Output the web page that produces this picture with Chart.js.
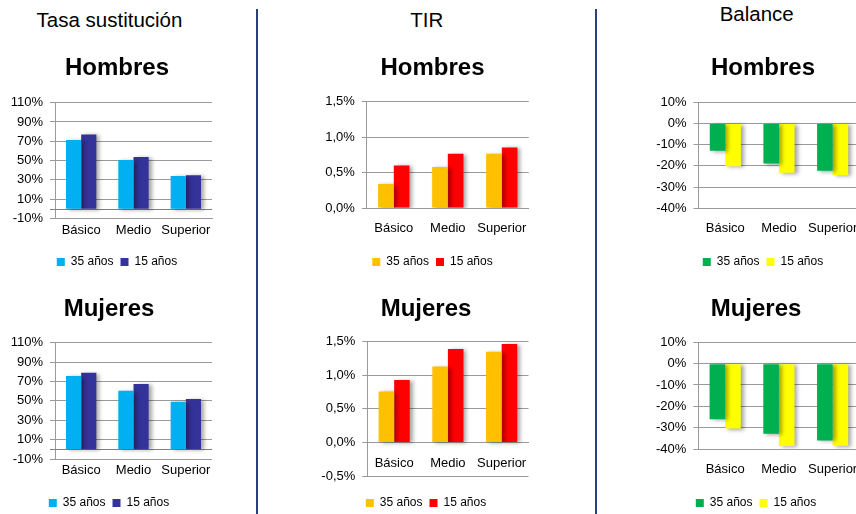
<!DOCTYPE html>
<html><head><meta charset="utf-8">
<script src="https://cdn.jsdelivr.net/npm/chart.js@4.4.1/dist/chart.umd.min.js"></script>
<style>
html,body{margin:0;padding:0;width:856px;height:514px;overflow:hidden;background:#fff;font-family:"Liberation Sans",Arial,sans-serif;}
.hdr{position:absolute;width:300px;text-align:center;font-size:20.5px;line-height:20px;color:#000;white-space:nowrap;}
.sep{position:absolute;top:9px;width:2px;height:505px;background:#2B3F7F;}
canvas{position:absolute;}
</style></head><body>
<div class="hdr" style="left:-40.5px;top:9.8px">Tasa sustitución</div>
<div class="hdr" style="left:276.7px;top:10.4px">TIR</div>
<div class="hdr" style="left:606.7px;top:3.8px">Balance</div>
<div class="sep" style="left:256px"></div>
<div class="sep" style="left:595px"></div>
<canvas id="c1" width="226" height="238" style="left:0px;top:40px"></canvas>
<canvas id="c2" width="212" height="239" style="left:0px;top:280px"></canvas>
<canvas id="c3" width="242" height="238" style="left:300px;top:40px"></canvas>
<canvas id="c4" width="232" height="239" style="left:300px;top:280px"></canvas>
<canvas id="c5" width="252" height="238" style="left:620px;top:40px"></canvas>
<canvas id="c6" width="240" height="239" style="left:620px;top:280px"></canvas>
<script>
const categories = ['Básico', 'Medio', 'Superior'];
const seriesNames = ['35 años', '15 años'];
const panelTitles = ['Hombres', 'Mujeres'];

const tasaHombres35 = [71.3, 50.5, 33.9];
const tasaHombres15 = [77.1, 53.6, 34.6];
const tasaMujeres35 = [75.6, 60.5, 49.2];
const tasaMujeres15 = [79.1, 67.4, 51.9];

const tirHombres35 = [0.34, 0.58, 0.765];
const tirHombres15 = [0.60, 0.765, 0.855];
const tirMujeres35 = [0.76, 1.13, 1.35];
const tirMujeres15 = [0.93, 1.39, 1.465];

const balHombres35 = [-12.8, -18.9, -22.3];
const balHombres15 = [-20.2, -23.2, -24.4];
const balMujeres35 = [-26.1, -32.9, -36.0];
const balMujeres15 = [-30.4, -38.6, -38.5];

const tasaTicks = [-10, 10, 30, 50, 70, 90, 110];
const tasaTickLabels = ['-10%', '10%', '30%', '50%', '70%', '90%', '110%'];
const tirHombresTicks = [0, 0.5, 1, 1.5];
const tirHombresTickLabels = ['0,0%', '0,5%', '1,0%', '1,5%'];
const tirMujeresTicks = [-0.5, 0, 0.5, 1, 1.5];
const tirMujeresTickLabels = ['-0,5%', '0,0%', '0,5%', '1,0%', '1,5%'];
const balTicks = [-40, -30, -20, -10, 0, 10];
const balTickLabels = ['-40%', '-30%', '-20%', '-10%', '0%', '10%'];

const tasaColors = ['#00B0F0', '#333399'];
const tirColors = ['#FFC000', '#FF0000'];
const balColors = ['#00B050', '#FFFF00'];

Chart.defaults.font.family = '"Liberation Sans", Arial, sans-serif';
Chart.defaults.color = '#000';
const GRID = '#9a9a9a';

const fxPlugin = {
  id: 'fx',
  beforeDatasetsDraw(chart, args, opts) {
    const ctx = chart.ctx;
    if (opts.zero) {
      const y = chart.scales.y.getPixelForValue(0);
      ctx.save();
      ctx.strokeStyle = '#808080';
      ctx.lineWidth = 1;
      ctx.beginPath();
      ctx.moveTo(chart.chartArea.left - 5, Math.round(y) + 0.5);
      ctx.lineTo(chart.chartArea.right, Math.round(y) + 0.5);
      ctx.stroke();
      ctx.restore();
    }
    ctx.save();
    ctx.shadowColor = 'rgba(0,0,0,0.35)';
    ctx.shadowBlur = 4;
    ctx.shadowOffsetX = 3;
    ctx.shadowOffsetY = 1;
  },
  afterDatasetsDraw(chart) {
    chart.ctx.restore();
  }
};

function build(id, o) {
  const scales = {
    x: {
      position: o.xAtZero ? {y: 0} : 'bottom',
      grid: {display: true, drawOnChartArea: false, drawTicks: true, tickLength: o.xPad, color: 'rgba(0,0,0,0)'},
      border: {display: true, color: GRID, width: 1},
      ticks: {color: '#000', font: {size: 13}, padding: 0, maxRotation: 0, autoSkip: false}
    },
    y: {
      position: 'left',
      min: o.min, max: o.max,
      grid: {color: GRID, tickLength: 5, drawTicks: true},
      border: {display: true, color: GRID},
      ticks: {
        color: '#000', font: {size: 13}, padding: 7,
        callback: (v) => { const i = o.ticks.indexOf(v); return i >= 0 ? o.labels[i] : ''; }
      },
      afterBuildTicks: (s) => { s.ticks = o.ticks.map(v => ({value: v})); },
      afterFit: (s) => { s.width = o.yW; }
    }
  };
  if (!o.xAtZero) {
    scales.x.afterFit = (s) => { s.height = o.xH; };
  } else {
    scales.gap = {
      type: 'linear', position: 'bottom', display: true,
      ticks: {display: false, padding: 0}, grid: {display: false, drawTicks: false},
      border: {display: false},
      afterFit: (s) => { s.height = o.gapH; }
    };
  }
  if (o.rightW > 0) {
    scales.yr = {
      type: 'linear', position: 'right', display: true,
      ticks: {display: false}, grid: {display: false, drawTicks: false},
      border: {display: false},
      afterFit: (s) => { s.width = o.rightW; }
    };
  }
  new Chart(document.getElementById(id), {
    type: 'bar',
    data: {
      labels: categories,
      datasets: [
        {label: seriesNames[0], data: o.d35, backgroundColor: o.colors[0], borderWidth: 0, xAxisID: 'x', yAxisID: 'y', categoryPercentage: 0.58, barPercentage: 1},
        {label: seriesNames[1], data: o.d15, backgroundColor: o.colors[1], borderWidth: 0, xAxisID: 'x', yAxisID: 'y', categoryPercentage: 0.58, barPercentage: 1}
      ]
    },
    options: {
      responsive: false,
      animation: false,
      devicePixelRatio: 1,
      layout: {padding: {left: o.padL, right: o.padR, top: 0, bottom: 0}},
      scales: scales,
      plugins: {
        fx: {zero: !!o.zero},
        tooltip: {enabled: false},
        title: {
          display: true, text: o.title, color: '#000',
          font: {size: 24, weight: 'bold'},
          padding: {top: o.tTop, bottom: o.tBot}
        },
        legend: {
          position: 'bottom',
          labels: {boxWidth: 8, boxHeight: 8, padding: 7, color: '#000', font: {size: 12}}
        }
      }
    },
    plugins: [fxPlugin]
  });
}

build('c1', {title: panelTitles[0], d35: tasaHombres35, d15: tasaHombres15, colors: tasaColors,
  ticks: tasaTicks, labels: tasaTickLabels, min: -10, max: 110, zero: true,
  padL: 8, padR: 0, yW: 47, rightW: 14, tTop: 14.3, tBot: 19.6, xH: 30.7, xPad: 4.2});
build('c2', {title: panelTitles[1], d35: tasaMujeres35, d15: tasaMujeres15, colors: tasaColors,
  ticks: tasaTicks, labels: tasaTickLabels, min: -10, max: 110, zero: true,
  padL: 6, padR: 0, yW: 49, rightW: 0, tTop: 14.6, tBot: 19.3, xH: 31, xPad: 3.5});
build('c3', {title: panelTitles[0], d35: tirHombres35, d15: tirHombres15, colors: tirColors,
  ticks: tirHombresTicks, labels: tirHombresTickLabels, min: 0, max: 1.5,
  padL: 23.8, padR: 0.8, yW: 43, rightW: 12.4, tTop: 14.3, tBot: 18.6, xH: 41, xPad: 12.9});
build('c4', {title: panelTitles[1], d35: tirMujeres35, d15: tirMujeres15, colors: tirColors,
  ticks: tirMujeresTicks, labels: tirMujeresTickLabels, min: -0.5, max: 1.5, xAtZero: true, gapH: 14,
  padL: 20.3, padR: 0.3, yW: 47, rightW: 3.2, tTop: 14.6, tBot: 18.3, xPad: 12.8});
build('c5', {title: panelTitles[0], d35: balHombres35, d15: balHombres15, colors: balColors,
  ticks: balTicks, labels: balTickLabels, min: -40, max: 10,
  padL: 34.5, padR: 0.5, yW: 44, rightW: 12, tTop: 14.3, tBot: 19.2, xH: 40.7, xPad: 12.6});
build('c6', {title: panelTitles[1], d35: balMujeres35, d15: balMujeres15, colors: balColors,
  ticks: balTicks, labels: balTickLabels, min: -40, max: 10,
  padL: 32.5, padR: 0.5, yW: 45.8, rightW: 0, tTop: 14.6, tBot: 18.9, xH: 41, xPad: 12.5});
</script>
</body></html>
